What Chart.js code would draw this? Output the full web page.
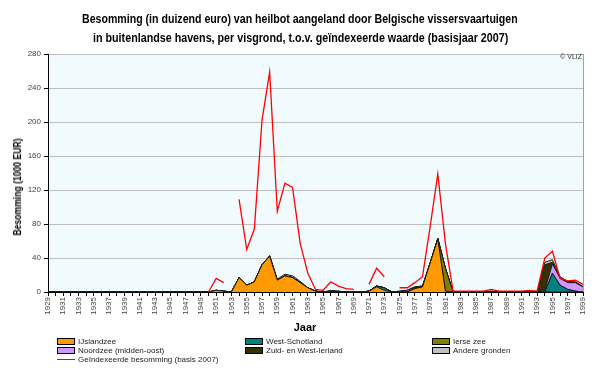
<!DOCTYPE html>
<html><head><meta charset="utf-8">
<script src="https://cdn.jsdelivr.net/npm/chart.js@4.4.1/dist/chart.umd.min.js"></script>
<style>
html,body{margin:0;padding:0;background:#fff;}
#wrap{position:relative;width:600px;height:368px;overflow:hidden;font-family:"Liberation Sans",Arial,sans-serif;}
#c{position:absolute;left:0;top:0;}
.t{position:absolute;white-space:nowrap;}
.tl{position:absolute;white-space:nowrap;font-weight:bold;font-size:13px;line-height:15px;color:#000;transform-origin:0 0;}
.lg{position:absolute;font-size:8px;color:#222;line-height:9px;white-space:nowrap;}
.sw{position:absolute;top:1px;width:16px;height:5px;border:1px solid #000;}
.ln{position:absolute;top:4px;width:18px;height:1px;background:#FF0000;}
</style></head><body>
<div id="wrap">
<canvas id="c" width="600" height="368"></canvas>
<span class="tl" id="t1" data-w="436" data-cy="18">Besomming (in duizend euro) van heilbot aangeland door Belgische vissersvaartuigen</span>
<span class="tl" id="t2" data-w="415" data-cy="37">in buitenlandse havens, per visgrond, t.o.v. geïndexeerde waarde (basisjaar 2007)</span>
<div class="t" style="right:18px;top:53px;font-size:7px;color:#333">© VLIZ</div>
<span class="t" id="yt" style="font-weight:bold;font-size:11px;line-height:12px;color:#000">Besomming (1000 EUR)</span>
<div class="t" style="left:305px;top:327px;transform:translate(-50%,-50%);font-weight:bold;font-size:11px;color:#000">Jaar</div>
<div id="legend"></div>
</div>
<script>
const years = [1929,1930,1931,1932,1933,1934,1935,1936,1937,1938,1939,1940,1941,1942,1943,1944,1945,1946,1947,1948,1949,
1950,1951,1952,1953,1954,1955,1956,1957,1958,1959,1960,1961,1962,1963,1964,1965,1966,1967,1968,1969,
1970,1971,1972,1973,1974,1975,1976,1977,1978,1979,1980,1981,1982,1983,1984,1985,1986,1987,1988,1989,
1990,1991,1992,1993,1994,1995,1996,1997,1998,1999];

// 1929-1949 (21 values), then 1950-1969, 1970-1989, 1990-1999
const ijslandzee = [0,0,0,0,0,0,0,0,0,0,0,0,0,0,0,0,0,0,0,0,0,
0,2,1,0,17,8,12,32,42,14,19,17,11,5,1,0,0,0,0,0,
0,1,6,2,0,0,0,4,6,34,62,1,0,0,0,0,0,0,0,0,
0,0,0,0,0,0,0,0,0,0];
const westSchotland = [0,0,0,0,0,0,0,0,0,0,0,0,0,0,0,0,0,0,0,0,0,
0,0,0,0,0,0,0,0,0,0,0,0,0,0,0,0,0,0,0,0,
0,0,1,3,0,0,0,0,0,0,0,0,0,0,0,0,0,0,0,0,
0,0,0,0,0,22,8,3,1,0];
const ierseZee = [0,0,0,0,0,0,0,0,0,0,0,0,0,0,0,0,0,0,0,0,0,
0,0,0,0,0,0,0,0,0,0,0,0,0,0,0,0,0,0,0,0,
0,0,0,0,0,0,0,0,0,0,1,27,0,0,0,0,0,0,0,0,
0,0,0,0,0,0,0,0,0,0];
const noordzee = [0,0,0,0,0,0,0,0,0,0,0,0,0,0,0,0,0,0,0,0,0,
0,0,0,0,0,0,0,0,0,0,0,0,0,0,0,0,0,0,0,0,
0,0,0,0,0,0,2,1,1,0,0,0,0,0,0,0,0,0,0,0,
0,0,0,0,2,11,8,8,10,6];
const zuidWestIerland = [0,0,0,0,0,0,0,0,0,0,0,0,0,0,0,0,0,0,0,0,0,
0,0,0,0,0,0,0,0,0,0,0,0,0,0,0,0,1,1,0,0,
0,0,0,0,0,1,0,1,0,0,0,0,0,0,0,0,0,1,0,0,
0,0,0,0,30,2,0.5,0.5,0,0];
const andereGronden = [0,0,0,0,0,0,0,0,0,0,0,0,0,0,0,0,0,0,0,0,0,
0,0,0,0,0,0,0,0,1,1,2,2,1.5,0,0,0,1,0,0,0,
0,0,0,0,0,0,0,0,0,0,0,0,0,0,0,0,0,0,0,0,
0,0,0,0,3,3,1.5,1,1,0.5];
const geindexeerd = [null,null,null,null,null,null,null,null,null,null,null,null,null,null,null,null,null,null,null,null,null,
0,16,11,null,109,50,74,202,259,95,128,123,57,22,3,2,12,7,4,3,
null,9,28,18,null,5,5,11,18,77,139,57,1,1,1,1,1,3,1,1,
1,1,2,1,40,48,16,13,14,9];

const seriesNames = ["IJslandzee","West-Schotland","Ierse zee","Noordzee (midden-oost)","Zuid- en West-Ierland","Andere gronden"];
const seriesColors = ["#FF9900","#008080","#808000","#CC99FF","#333300","#C0C0C0"];
const seriesData = [ijslandzee, westSchotland, ierseZee, noordzee, zuidWestIerland, andereGronden];
const lineName = "Geïndexeerde besomming (basis 2007)";
const yTicks = [0,40,80,120,160,200,240,280];

const datasets = seriesData.map((d,i)=>({
  label: seriesNames[i], data: d, stack: 'areas',
  backgroundColor: seriesColors[i], borderColor: '#1a1a1a', borderWidth: 1,
  fill: i===0 ? 'origin' : '-1', pointRadius: 0, tension: 0, order: 1
}));
datasets.push({
  label: lineName, data: geindexeerd, stack: 'line',
  borderColor: '#FF0000', borderWidth: 1.3, fill: false, pointRadius: 0, tension: 0,
  spanGaps: false, order: -1
});

const bgPlugin = {
  id: 'bg',
  beforeDraw(chart){
    const {ctx, chartArea:a} = chart;
    ctx.save(); ctx.fillStyle = '#F1FBFD';
    ctx.fillRect(a.left, a.top, a.right-a.left, a.bottom-a.top); ctx.restore();
  },
  afterDraw(chart){
    const {ctx, chartArea:a} = chart;
    ctx.save(); ctx.strokeStyle = '#A0A0A0'; ctx.lineWidth = 1;
    ctx.beginPath(); ctx.moveTo(Math.round(a.right)+0.5, a.top); ctx.lineTo(Math.round(a.right)+0.5, a.bottom); ctx.stroke();
    ctx.restore();
  }
};

new Chart(document.getElementById('c'), {
  type: 'line',
  data: { labels: years, datasets },
  plugins: [bgPlugin],
  options: {
    responsive: false, animation: false, devicePixelRatio: 1,
    layout: { padding: { left: 0, top: 54, right: 17, bottom: 46 } },
    plugins: { legend: { display: false }, title: { display: false }, tooltip: { enabled: false } },
    scales: {
      x: {
        type: 'category', offset: false,
        grid: { display: true, drawOnChartArea: false, drawTicks: true, tickLength: 4, color: '#000' },
        border: { color: '#000' },
        ticks: { autoSkip: false, maxRotation: 90, minRotation: 90, padding: 1,
          font: { size: 8, family: 'Liberation Sans' }, color: '#444',
          callback: function(v, i){ return i % 2 === 0 ? String(years[i]) : ''; } },
        afterFit(s){ s.height = 30; }
      },
      y: {
        stacked: true, min: 0, max: 280,
        afterBuildTicks(s){ s.ticks = yTicks.map(v=>({value:v})); },
        grid: { color: '#BEBEBE', tickColor: '#000', tickLength: 4, lineWidth: 1 },
        border: { color: '#000' },
        ticks: { padding: 3, font: { size: 8, family: 'Liberation Sans' }, color: '#444' },
        afterFit(s){ s.width = 48; }
      }
    }
  }
});

// title lines fitted to the reference widths
['t1','t2'].forEach(id=>{
  const el = document.getElementById(id);
  const w = el.offsetWidth, h = el.offsetHeight;
  const target = +el.dataset.w, cy = +el.dataset.cy;
  const k = target / w;
  el.style.left = (300 - target/2) + 'px';
  el.style.top = Math.round(cy - h/2) + 'px';
  el.style.transform = 'scaleX(' + k + ')';
});
// y-axis title: rotated, fitted to ~97px long, centred at (17,187)
(function(){
  const el = document.getElementById('yt');
  const w = el.offsetWidth, h = el.offsetHeight;
  const k = 97 / w;
  el.style.left = Math.round(17 - w/2) + 'px';
  el.style.top = Math.round(187 - h/2) + 'px';
  el.style.transform = 'rotate(-90deg) scaleX(' + k + ')';
})();

// legend (3 columns)
const lg = document.getElementById('legend');
const colX = [57, 245, 432];
const rowY = [337, 346];
seriesNames.forEach((n,i)=>{
  const d = document.createElement('div');
  d.className = 'lg';
  d.style.left = colX[i%3] + 'px';
  d.style.top = rowY[Math.floor(i/3)] + 'px';
  d.innerHTML = '<span class="sw" style="left:0;background:' + seriesColors[i] + '"></span><span style="position:absolute;left:21px;top:0">' + n + '</span>';
  lg.appendChild(d);
});
const dl = document.createElement('div');
dl.className = 'lg'; dl.style.left = '57px'; dl.style.top = '355px';
dl.innerHTML = '<span class="ln" style="left:0;background:#FF0000"></span><span style="position:absolute;left:21px;top:0">' + lineName + '</span>';
lg.appendChild(dl);
</script>
</body></html>
